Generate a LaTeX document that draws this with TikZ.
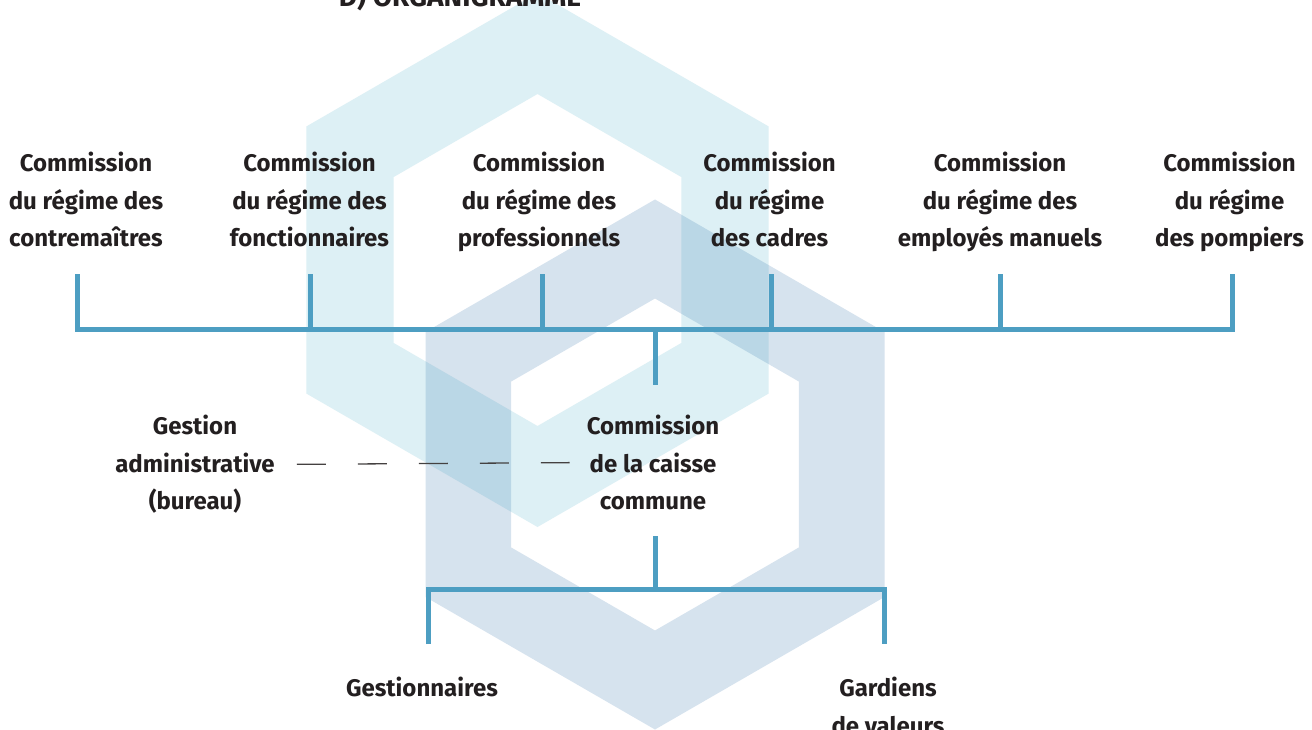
\documentclass[tikz,border=0pt]{standalone}
\usepackage{fontspec}
\setmainfont{Fira Sans}
\usetikzlibrary{calc}
\definecolor{hexcyan}{RGB}{221,240,245}
\definecolor{hexblue}{RGB}{50,115,170}
\definecolor{linkblue}{RGB}{77,158,194}
\definecolor{ink}{RGB}{35,31,32}
\begin{document}
\begin{tikzpicture}[x=1pt,y=-1pt,
  lbl/.style={font=\fontsize{24}{37.5}\selectfont\bfseries, text=ink, align=center, inner sep=0pt, anchor=north},
  link/.style={draw=linkblue, line width=5pt},
  dashlink/.style={draw=ink!85, line width=1.3pt, dash pattern=on 29pt off 32pt},
  ring/.style={even odd rule},
]
\useasboundingbox (0,0) rectangle (1312,730);
\clip (0,0) rectangle (1312,730);
\fill[white] (0,0) rectangle (1312,730);

% background hexagonal rings
\fill[hexcyan, ring, shift={(537.5,260)}]
  (90:267) -- (30:267) -- (-30:267) -- (-90:267) -- (-150:267) -- (150:267) -- cycle
  (90:166) -- (30:166) -- (-30:166) -- (-90:166) -- (-150:166) -- (150:166) -- cycle;
\fill[hexblue, fill opacity=0.2, ring, shift={(655,464.5)}]
  (90:265) -- (30:265) -- (-30:265) -- (-90:265) -- (-150:265) -- (150:265) -- cycle
  (90:166) -- (30:166) -- (-30:166) -- (-90:166) -- (-150:166) -- (150:166) -- cycle;

% title
\node[font=\fontsize{28}{30}\selectfont\bfseries, text=ink, anchor=base, inner sep=0pt] (title) at (460,7) {D) ORGANIGRAMME};

% committees of the plans
\node[lbl] (r1) at (86,152)   {Commission\\du régime des\\contremaîtres};
\node[lbl] (r2) at (309.5,152) {Commission\\du régime des\\fonctionnaires};
\node[lbl] (r3) at (539,152)  {Commission\\du régime des\\professionnels};
\node[lbl] (r4) at (769.5,152) {Commission\\du régime\\des cadres};
\node[lbl] (r5) at (1000,152) {Commission\\du régime des\\employés manuels};
\node[lbl] (r6) at (1229.5,152) {Commission\\du régime\\des pompiers};

\node[lbl] (caisse) at (653,415) {Commission\\de la caisse\\commune};
\node[lbl] (gadm) at (195,415) {Gestion\\administrative\\(bureau)};

\node[lbl] (gest) at (422,677) {Gestionnaires};
\node[lbl] (gard) at (888,677) {Gardiens\\de valeurs};

% upper bus
\coordinate (t1) at (77,274);
\coordinate (t2) at (310,274);
\coordinate (t3) at (542,274);
\coordinate (t4) at (771,274);
\coordinate (t5) at (1000,274);
\coordinate (t6) at (1232,274);
\coordinate (bus) at (655,329);

\draw[link] (t1) |- (bus) -| (t6);
\draw[link] (t2) -- (t2 |- bus);
\draw[link] (t3) -- (t3 |- bus);
\draw[link] (t4) -- (t4 |- bus);
\draw[link] (t5) -- (t5 |- bus);
\draw[link] (bus) -- ([yshift=30pt]caisse.north -| bus);

% lower bus
\coordinate (lbus) at (655,589);
\coordinate (g1) at (428,644);
\coordinate (g2) at (884,644);
\draw[link] ([yshift=-26pt]caisse.south -| lbus) -- (lbus);
\draw[link] (g1) |- (lbus) -| (g2);

% administrative link
\draw[dashlink] ([xshift=22pt]gadm.east) -- ([xshift=-17pt]caisse.west);
\end{tikzpicture}
\end{document}
